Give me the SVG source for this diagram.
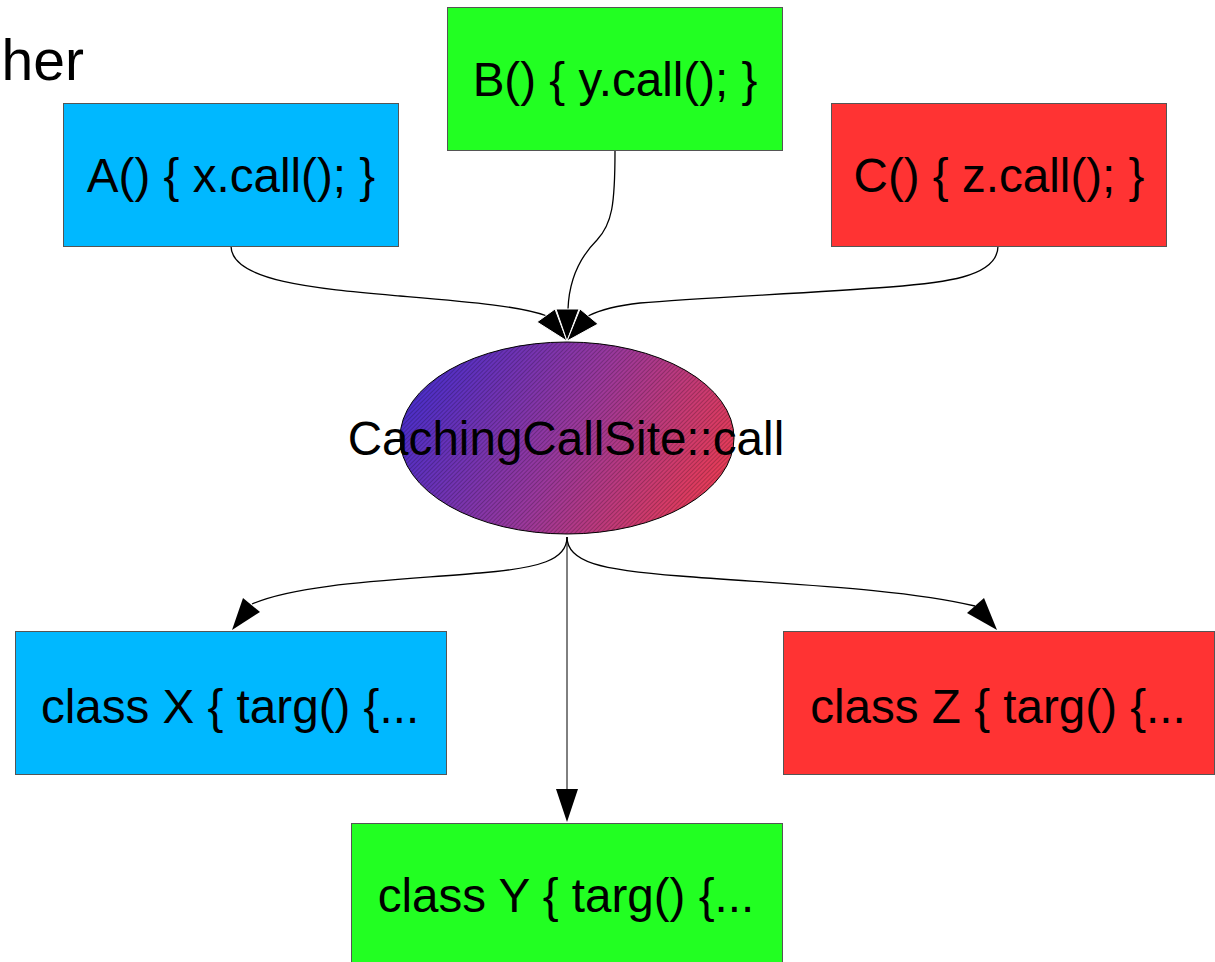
<svg xmlns="http://www.w3.org/2000/svg" width="1215" height="962" viewBox="0 0 1215 962">
  <style>
    .box { stroke: #555; stroke-width: 1; }
    .blue { fill: #00b8ff; }
    .green { fill: #22ff22; }
    .red { fill: #ff3333; }
    .lbl { font-family: "Liberation Sans", Arial, sans-serif; font-size: 47.6px; fill: #000; text-anchor: middle; }
    .edge { fill: none; stroke: #000; stroke-width: 1.3; }
    .head { fill: #000; stroke: #fff; stroke-width: 1; }
    .headplain { fill: #000; }
  </style>
  <defs>
    <linearGradient id="siteGrad" gradientUnits="userSpaceOnUse" x1="400" y1="350" x2="734" y2="530">
      <stop offset="0" stop-color="#3b2cd2"/>
      <stop offset="0.5" stop-color="#9a389c"/>
      <stop offset="1" stop-color="#f83c46"/>
    </linearGradient>
    <pattern id="hatch" patternUnits="userSpaceOnUse" width="3" height="3" patternTransform="rotate(45)">
      <line x1="0.5" y1="0" x2="0.5" y2="3" stroke="#000" stroke-opacity="0.22" stroke-width="1"/>
    </pattern>
  </defs>

  <!-- caption fragment, top left -->
  <text x="84" y="80" class="lbl" style="text-anchor:end;font-size:57px">her</text>

  <!-- connectors -->
  <g id="connectors">
    <!-- callers into the call site -->
    <path class="edge" d="M231,246 C231,282 320,289 400,296 C470,302 520,306 547,316"/>
    <path class="edge" d="M615,151 C615,205 612,224 597,240 C579,258 569,282 568,309"/>
    <path class="edge" d="M998,246 C998,278 940,283 890,287 C810,293 700,298 640,303 C612,306 598,311 588,316"/>
    <polygon class="head" points="537,322 555,309 567,341"/>
    <polygon class="head" points="556,309 579,309 567,341"/>
    <polygon class="head" points="580,309 598,324 567,341"/>

    <!-- call site out to targets -->
    <path class="edge" d="M567,537 C567,560 540,568 480,573 C400,580 300,583 252,604"/>
    <polygon class="headplain" points="232,630 243,598 260,612"/>
    <path class="edge" d="M567,537 C567,562 600,570 680,576 C780,584 900,588 975,606"/>
    <polygon class="headplain" points="997,630 967,613 984,598"/>
    <line x1="567" y1="537" x2="567" y2="792" stroke="#000" stroke-width="1"/>
    <polygon class="headplain" points="556,789 578,789 567,822"/>
  </g>

  <g id="nodeA">
    <rect class="box blue" x="63.5" y="103.5" width="335" height="143"/>
    <text class="lbl" x="231" y="192">A() { x.call(); }</text>
  </g>
  <g id="nodeB">
    <rect class="box green" x="447.5" y="7.5" width="335" height="143"/>
    <text class="lbl" x="615" y="96">B() { y.call(); }</text>
  </g>
  <g id="nodeC">
    <rect class="box red" x="831.5" y="103.5" width="335" height="143"/>
    <text class="lbl" x="999" y="192">C() { z.call(); }</text>
  </g>

  <g id="callSite">
    <ellipse cx="567" cy="438" rx="167" ry="96" fill="url(#siteGrad)" stroke="#000" stroke-width="1"/>
    <ellipse cx="567" cy="438" rx="167" ry="96" fill="url(#hatch)"/>
    <text class="lbl" x="566" y="455">CachingCallSite::call</text>
  </g>

  <g id="nodeX">
    <rect class="box blue" x="15.5" y="631.5" width="431" height="143"/>
    <text class="lbl" x="230" y="723">class X { targ() {...</text>
  </g>
  <g id="nodeY">
    <rect class="box green" x="351.5" y="823.5" width="431" height="143"/>
    <text class="lbl" x="566" y="912">class Y { targ() {...</text>
  </g>
  <g id="nodeZ">
    <rect class="box red" x="783.5" y="631.5" width="431" height="143"/>
    <text class="lbl" x="998" y="723">class Z { targ() {...</text>
  </g>
</svg>
